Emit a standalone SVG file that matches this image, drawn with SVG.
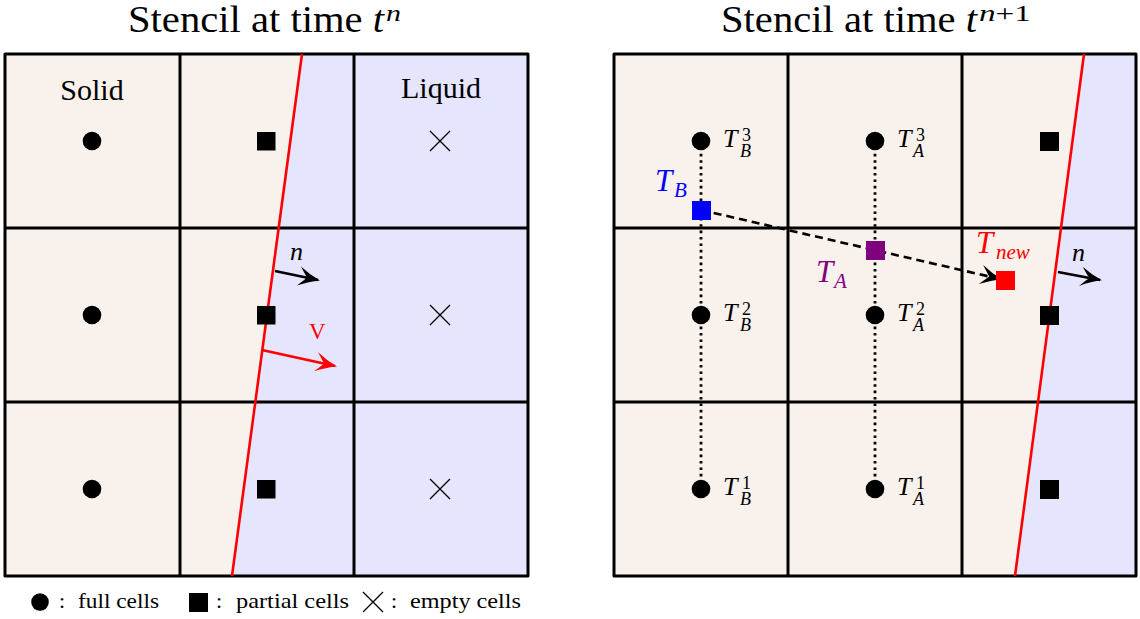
<svg xmlns="http://www.w3.org/2000/svg" width="1140" height="619" viewBox="0 0 1140 619">
<style>
text{font-family:"Liberation Serif","Times New Roman",serif;fill:#000}
.it{font-style:italic}
.grid{fill:none;stroke:#000;stroke-width:3;stroke-linejoin:round}
.solid{fill:#F8F1EC}
.liq{fill:#E5E5FD}
.iface{stroke:#f00;stroke-width:2.6;fill:none}
.cross{stroke:#000;stroke-width:1.3}
.dot{stroke:#000;stroke-width:2.8;stroke-dasharray:2.6 3.8}
.arr{stroke-width:2.6;fill:none}
</style>
<defs>
<marker id="hk" markerUnits="userSpaceOnUse" markerWidth="26" markerHeight="26" refX="0" refY="0" viewBox="-18 -10 20 20" orient="auto" overflow="visible">
<path d="M1.5,0 Q-6.5,-2.4 -15,-7.5 Q-10,-1.6 -8.5,0 Q-10,1.6 -15,7.5 Q-6.5,2.4 1.5,0 Z" fill="#000"/>
</marker>
<marker id="hr" markerUnits="userSpaceOnUse" markerWidth="26" markerHeight="26" refX="0" refY="0" viewBox="-18 -10 20 20" orient="auto" overflow="visible">
<path d="M1.5,0 Q-6.5,-2.4 -15,-7.5 Q-10,-1.6 -8.5,0 Q-10,1.6 -15,7.5 Q-6.5,2.4 1.5,0 Z" fill="#f00"/>
</marker>
</defs>

<!-- Titles -->
<g id="title-left">
<text x="128" y="32" font-size="38" textLength="256" lengthAdjust="spacingAndGlyphs">Stencil at time <tspan class="it">t</tspan></text>
<text x="386" y="21" font-size="23" textLength="15" lengthAdjust="spacingAndGlyphs" class="it">n</text>
</g>
<g id="title-right">
<text x="721" y="32" font-size="38" textLength="256" lengthAdjust="spacingAndGlyphs">Stencil at time <tspan class="it">t</tspan></text>
<text x="979" y="21" font-size="23" textLength="52" lengthAdjust="spacingAndGlyphs"><tspan class="it">n</tspan>+1</text>
</g>

<!-- Left stencil -->
<g id="stencil-left">
<polygon class="solid" points="5,54 302,54 232,576 5,576"/>
<polygon class="liq" points="302,54 528,54 528,576 232,576"/>
<rect class="grid" x="5" y="54" width="523" height="522"/>
<line class="grid" x1="180" y1="54" x2="180" y2="576"/>
<line class="grid" x1="354" y1="54" x2="354" y2="576"/>
<line class="grid" x1="5" y1="228" x2="528" y2="228"/>
<line class="grid" x1="5" y1="402" x2="528" y2="402"/>
<line class="iface" x1="302" y1="54" x2="232" y2="576"/>
</g>
<g id="left-labels">
<text x="92" y="100" font-size="30" text-anchor="middle">Solid</text>
<text x="441" y="98" font-size="30" text-anchor="middle">Liquid</text>
</g>
<g id="left-full">
<circle cx="92" cy="141" r="9.3"/>
<circle cx="92" cy="315" r="9.3"/>
<circle cx="92" cy="489" r="9.3"/>
</g>
<g id="left-partial">
<rect x="257" y="132" width="18.5" height="18.5"/>
<rect x="257" y="306" width="18.5" height="18.5"/>
<rect x="257" y="480" width="18.5" height="18.5"/>
</g>
<g id="left-empty">
<path class="cross" d="M430,131 L450,151 M450,131 L430,151"/>
<path class="cross" d="M430,305 L450,325 M450,305 L430,325"/>
<path class="cross" d="M430,479 L450,499 M450,479 L430,499"/>
</g>

<!-- Right stencil -->
<g id="stencil-right">
<polygon class="solid" points="614,54 1084,54 1015,576 614,576"/>
<polygon class="liq" points="1084,54 1136,54 1136,576 1015,576"/>
<rect class="grid" x="614" y="54" width="522" height="522"/>
<line class="grid" x1="788" y1="54" x2="788" y2="576"/>
<line class="grid" x1="962" y1="54" x2="962" y2="576"/>
<line class="grid" x1="614" y1="228" x2="1136" y2="228"/>
<line class="grid" x1="614" y1="402" x2="1136" y2="402"/>
<line class="iface" x1="1084" y1="54" x2="1015" y2="576"/>
</g>

<!-- Connectors -->
<g id="connectors">
<line class="dot" x1="701" y1="141" x2="701" y2="489"/>
<line class="dot" x1="875" y1="141" x2="875" y2="489"/>
<line x1="701" y1="210" x2="1000" y2="279" stroke="#000" stroke-width="2.6" stroke-dasharray="8 5" marker-end="url(#hk)"/>
<line class="arr" stroke="#000" x1="275" y1="271" x2="318" y2="280" marker-end="url(#hk)"/>
<line class="arr" stroke="#f00" x1="262" y1="350" x2="335" y2="366" marker-end="url(#hr)"/>
<line class="arr" stroke="#000" x1="1058" y1="272" x2="1100" y2="280" marker-end="url(#hk)"/>
</g>

<g id="arrow-labels">
<text x="290" y="260" font-size="26" class="it">n</text>
<text x="309" y="339" font-size="23" style="fill:#f00">V</text>
<text x="1072" y="261" font-size="26" class="it">n</text>
</g>

<g id="right-points">
<circle cx="701" cy="141" r="9.3"/>
<circle cx="701" cy="315" r="9.3"/>
<circle cx="701" cy="489" r="9.3"/>
<circle cx="875" cy="141" r="9.3"/>
<circle cx="875" cy="315" r="9.3"/>
<circle cx="875" cy="489" r="9.3"/>
<rect x="1040" y="132" width="19" height="19"/>
<rect x="1040" y="306" width="19" height="19"/>
<rect x="1040" y="480" width="19" height="19"/>
</g>

<g id="node-TB">
<rect x="692" y="201" width="19" height="19" fill="#00f"/>
<text x="655" y="191" font-size="31" class="it" style="fill:#00f">T</text>
<text x="674" y="197" font-size="21" class="it" style="fill:#00f">B</text>
</g>
<g id="node-TA">
<rect x="866" y="241" width="19" height="19" fill="#800080"/>
<text x="816" y="282" font-size="31" class="it" style="fill:#800080">T</text>
<text x="834" y="288" font-size="21" class="it" style="fill:#800080">A</text>
</g>
<g id="node-Tnew">
<rect x="996" y="271" width="19" height="19" fill="#f00"/>
<text x="976" y="253" font-size="31" class="it" style="fill:#f00">T</text>
<text x="996" y="259" font-size="21" class="it" style="fill:#f00">new</text>
</g>

<g id="labels-B">
<text x="723" y="147" font-size="26" class="it">T</text><text x="742" y="141" font-size="18">3</text><text x="740" y="157" font-size="18" class="it">B</text>
<text x="723" y="321" font-size="26" class="it">T</text><text x="742" y="315" font-size="18">2</text><text x="740" y="331" font-size="18" class="it">B</text>
<text x="723" y="495" font-size="26" class="it">T</text><text x="742" y="489" font-size="18">1</text><text x="740" y="505" font-size="18" class="it">B</text>
</g>
<g id="labels-A">
<text x="897" y="147" font-size="26" class="it">T</text><text x="916" y="141" font-size="18">3</text><text x="913" y="157" font-size="18" class="it">A</text>
<text x="897" y="321" font-size="26" class="it">T</text><text x="916" y="315" font-size="18">2</text><text x="913" y="331" font-size="18" class="it">A</text>
<text x="897" y="495" font-size="26" class="it">T</text><text x="916" y="489" font-size="18">1</text><text x="913" y="505" font-size="18" class="it">A</text>
</g>

<!-- Legend -->
<g id="legend">
<circle cx="40" cy="602" r="8.8"/>
<text y="608" font-size="22"><tspan x="59">:</tspan><tspan x="78" textLength="81" lengthAdjust="spacingAndGlyphs">full cells</tspan></text>
<rect x="189" y="593" width="19" height="19"/>
<text y="608" font-size="22"><tspan x="216">:</tspan><tspan x="236" textLength="113" lengthAdjust="spacingAndGlyphs">partial cells</tspan></text>
<path class="cross" d="M363,592 L383,612 M383,592 L363,612"/>
<text y="608" font-size="22"><tspan x="391">:</tspan><tspan x="410" textLength="111" lengthAdjust="spacingAndGlyphs">empty cells</tspan></text>
</g>
</svg>
